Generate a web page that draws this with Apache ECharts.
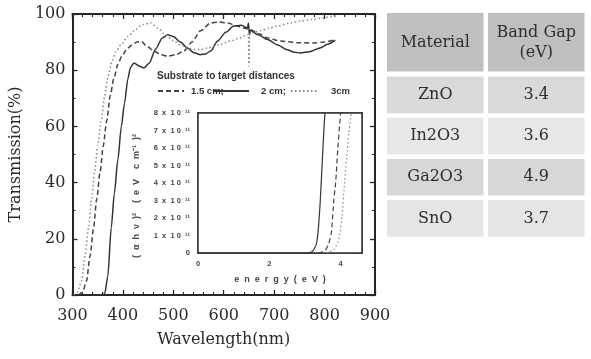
<!DOCTYPE html>
<html><head><meta charset="utf-8">
<script src="https://cdn.jsdelivr.net/npm/echarts@6/dist/echarts.min.js"></script>
<style>html,body{margin:0;padding:0;background:#fff}#c{width:591px;height:359px}</style>
</head><body><div id="c"></div><script>
// ---- data ----
const seriesNames = ['1.5 cm;', '2 cm;', '3cm'];
const wavelengthTicks = [300, 400, 500, 600, 700, 800, 900];
// transmission (%) vs wavelength (nm)
const trans15 = [[312,0],[320,1],[328,5],[335,14],[342,24],[348,34],[355,44],[361,53],[368,62],[375,71],[382,77],[390,82],[398,85],[408,87.5],[418,89],[428,90],[436,90.3],[448,88.5],[462,86.8],[475,85.5],[489,85],[505,85.5],[521,86.8],[537,90],[554,94],[574,96.8],[590,97.2],[608,96.8],[625,95.8],[639,95],[653,94.4],[670,93],[687,91.5],[712,90.4],[745,89.8],[777,89.7],[800,90],[821,90.9]];
const trans2 = [[340,0],[360,0],[364,0.5],[370,6.5],[377,24],[383,36],[390,48],[397,60],[403,68],[410,77],[415,81],[422,82.6],[432,81.5],[442,80.8],[452,82.5],[465,87.5],[478,91.5],[489,92.6],[500,92],[514,90],[528,87.9],[541,86.2],[554,85.5],[564,85.8],[574,86.8],[588,90.4],[604,93.5],[620,95.7],[635,96],[647,95],[649,96.8],[651,92.5],[653,94.2],[668,92.6],[687,90.9],[707,89],[726,87.3],[740,86.4],[752,86.1],[770,86.6],[791,87.9],[806,89.2],[821,90.7]];
const trans3 = [[303,0],[310,1],[318,5],[325,14],[332,24],[338,34],[344,44],[350,53],[357,62],[364,71],[371,78],[378,83],[386,86.5],[396,89],[410,92],[425,94.5],[438,96.2],[456,96.8],[469,95],[485,92.5],[500,90.5],[515,89],[528,87.9],[541,87.4],[554,87.3],[568,87.9],[590,89],[614,90.4],[632,91.5],[647,92.6],[649,92.8],[650,81.5],[651,92.9],[660,93.5],[673,94],[690,95],[706,95.7],[732,96.8],[752,97.5],[775,98],[797,98.6],[811,99.1],[825,99.3]];
// inset: (alpha h nu)^2 in units of 1e11 vs energy (eV)
const inset15 = [[0,0],[3.4,0],[3.58,0.19],[3.66,0.5],[3.74,1.14],[3.81,3.05],[3.86,4.0],[3.92,5.9],[3.98,7.52],[4.0,8]];
const inset2 = [[0,0],[3.0,0],[3.15,0.02],[3.25,0.2],[3.33,0.6],[3.38,1.5],[3.43,3],[3.48,5],[3.53,7],[3.56,8]];
const inset3 = [[3.6,0],[3.81,0.19],[3.95,0.76],[4.04,2.1],[4.11,4.0],[4.19,5.9],[4.23,6.86],[4.28,7.7],[4.3,8]];
// table
const tableHeader = ['Material', 'Band Gap\n(eV)'];
const materials = ['ZnO', 'In2O3', 'Ga2O3', 'SnO'];
const bandGaps = ['3.4', '3.6', '4.9', '3.7'];
const rowColors = ['#dadada', '#e7e7e7', '#d7d7d7', '#e5e5e5'];

// ---- chart ----
const serif = 'DejaVu Serif';
const sans = 'Liberation Sans';
const ink = '#262626';
const lineCols = ['#444', '#333', '#888'];
const lineTypes = [[5, 3], 'solid', [1.5, 2.5]];

function frameAxis(extra) {
  return Object.assign({
    type: 'value',
    axisLine: { show: true, onZero: false, lineStyle: { color: ink, width: 2 } },
    axisTick: { show: true, inside: true, length: 5, lineStyle: { color: ink, width: 1.3 } },
    minorTick: { show: true, length: 3, lineStyle: { color: ink, width: 1.1 } },
    splitLine: { show: false },
    minorSplitLine: { show: false }
  }, extra);
}
const mainLabel = { fontFamily: serif, fontSize: 16, color: '#2a2a2a' };
const insetLabel = { fontFamily: sans, fontWeight: 'bold', fontSize: 7.5, color: '#444' };

const xAxes = [
  frameAxis({ gridIndex: 0, position: 'bottom', min: wavelengthTicks[0], max: wavelengthTicks[wavelengthTicks.length - 1], interval: 100,
    minorTick: { show: true, splitNumber: 5, length: 3, lineStyle: { color: ink, width: 1.1 } },
    axisLabel: Object.assign({ margin: 13 }, mainLabel),
    name: 'Wavelength(nm)', nameLocation: 'middle', nameGap: 37,
    nameTextStyle: { fontFamily: serif, fontSize: 16, color: '#2a2a2a' } }),
  frameAxis({ gridIndex: 0, position: 'top', min: 300, max: 900, interval: 100,
    minorTick: { show: true, splitNumber: 5, length: 3, lineStyle: { color: ink, width: 1.1 } },
    axisLabel: { show: false } }),
  frameAxis({ gridIndex: 1, position: 'bottom', min: 0, max: 4.6, interval: 2,
    axisLine: { show: true, onZero: false, lineStyle: { color: '#333', width: 1.5 } },
    axisTick: { show: true, inside: true, length: 4, lineStyle: { color: '#333', width: 1 } },
    minorTick: { show: true, splitNumber: 6, length: 2.5, lineStyle: { color: '#333', width: 1 } },
    axisLabel: Object.assign({ margin: 7, showMaxLabel: false }, insetLabel),
    name: 'e  n  e  r  g  y  (  e  V  )', nameLocation: 'middle', nameGap: 22,
    nameTextStyle: { fontFamily: sans, fontWeight: 'bold', fontSize: 9, color: '#444' } }),
  frameAxis({ gridIndex: 1, position: 'top', min: 0, max: 4.6, interval: 2,
    axisLine: { show: true, onZero: false, lineStyle: { color: '#333', width: 1.5 } },
    axisTick: { show: true, inside: true, length: 4, lineStyle: { color: '#333', width: 1 } },
    minorTick: { show: true, splitNumber: 6, length: 2.5, lineStyle: { color: '#333', width: 1 } },
    axisLabel: { show: false } })
];
const yAxes = [
  frameAxis({ gridIndex: 0, position: 'left', min: 0, max: 100, interval: 20,
    minorTick: { show: true, splitNumber: 2, length: 3, lineStyle: { color: ink, width: 1.1 } },
    axisLabel: Object.assign({ margin: 7 }, mainLabel),
    name: 'Transmission(%)', nameLocation: 'middle', nameGap: 46,
    nameTextStyle: { fontFamily: serif, fontSize: 16, color: '#2a2a2a' } }),
  frameAxis({ gridIndex: 0, position: 'right', min: 0, max: 100, interval: 20,
    minorTick: { show: true, splitNumber: 2, length: 3, lineStyle: { color: ink, width: 1.1 } },
    axisLabel: { show: false } }),
  frameAxis({ gridIndex: 1, position: 'left', min: 0, max: 8, interval: 1,
    axisLine: { show: true, onZero: false, lineStyle: { color: '#333', width: 1.5 } },
    axisTick: { show: true, inside: true, length: 4, lineStyle: { color: '#333', width: 1 } },
    minorTick: { show: true, splitNumber: 4, length: 2.5, lineStyle: { color: '#333', width: 1 } },
    axisLabel: Object.assign({ margin: 8, formatter: v => v === 0 ? '0' : v + '  x  1 0  \u00b9\u00b9' }, insetLabel),
    name: '(  \u03b1  h  \u03bd  )\u00b2    (  e  V    c  m\u207b\u00b9  )\u00b2', nameLocation: 'middle', nameGap: 57,
    nameTextStyle: { fontFamily: sans, fontWeight: 'bold', fontSize: 9, color: '#444', padding: [0, 26, 0, 0] } }),
  frameAxis({ gridIndex: 1, position: 'right', min: 0, max: 8, interval: 1,
    axisLine: { show: true, onZero: false, lineStyle: { color: '#333', width: 1.5 } },
    axisTick: { show: true, inside: true, length: 4, lineStyle: { color: '#333', width: 1 } },
    minorTick: { show: true, splitNumber: 4, length: 2.5, lineStyle: { color: '#333', width: 1 } },
    axisLabel: { show: false } })
];

const mainData = [trans15, trans2, trans3];
const insetData = [inset15, inset2, inset3];
const series = [];
mainData.forEach((d, i) => series.push({
  name: seriesNames[i], type: 'line', xAxisIndex: 0, yAxisIndex: 0, data: d,
  symbol: 'none', smooth: 0.25, smoothMonotone: 'x', clip: true, z: 3,
  lineStyle: { color: lineCols[i], width: 1.5, type: lineTypes[i] }, itemStyle: { color: lineCols[i] }
}));
insetData.forEach((d, i) => series.push({
  name: 'inset ' + seriesNames[i], type: 'line', xAxisIndex: 2, yAxisIndex: 2, data: d,
  symbol: 'none', smooth: 0.2, clip: true, z: 6,
  lineStyle: { color: lineCols[i], width: 1.2, type: lineTypes[i] }
}));

// table graphics
const tX = [387, 488], tW = 96.5, hdrTop = 13, hdrH = 58.5, rowTop = 76.5, rowH = 36.7, rowStep = 41.2;
const graphic = [];
tableHeader.forEach((t, c) => {
  graphic.push({ type: 'rect', left: tX[c], top: hdrTop, shape: { width: tW, height: hdrH }, style: { fill: '#bfbfbf' } });
  graphic.push({ type: 'text', x: tX[c] + tW / 2, y: hdrTop + hdrH / 2 + 1,
    style: { text: t, fontFamily: serif, fontSize: 16, fill: '#2e2e2e', align: 'center', verticalAlign: 'middle', lineHeight: 20 } });
});
materials.forEach((m, r) => {
  [m, bandGaps[r]].forEach((t, c) => {
    const y0 = rowTop + r * rowStep;
    graphic.push({ type: 'rect', left: tX[c], top: y0, shape: { width: tW, height: rowH }, style: { fill: rowColors[r] } });
    graphic.push({ type: 'text', x: tX[c] + tW / 2, y: y0 + rowH / 2,
      style: { text: t, fontFamily: serif, fontSize: 16, fill: '#2e2e2e', align: 'center', verticalAlign: 'middle' } });
  });
});

// legend: one component per entry so each sits where the reference has it
const legendLeft = [157, 213, 290];
const legendIconW = [26, 35, 27];
const legendTextPad = [7, 12, 13];
const legends = seriesNames.map((n, i) => ({
  data: [n], left: legendLeft[i], top: 86, padding: 0, itemWidth: legendIconW[i], itemHeight: 10,
  itemStyle: { color: 'transparent', borderWidth: 0, opacity: 0 },
  textStyle: { fontFamily: sans, fontWeight: 'bold', fontSize: 9.5, color: '#333', padding: [0, 0, 0, legendTextPad[i] - 5] }
}));

const chart = echarts.init(document.getElementById('c'), null, { renderer: 'canvas' });
chart.setOption({
  animation: false,
  backgroundColor: '#fff',
  title: { text: 'Substrate to target distances', left: 157, top: 71, padding: 0,
    textStyle: { fontFamily: sans, fontWeight: 'bold', fontSize: 10, color: '#333' } },
  legend: legends,
  grid: [
    { left: 71, top: 14, width: 304, height: 281, show: false },
    { left: 198, top: 113, width: 164, height: 140, show: true, backgroundColor: '#fff', borderColor: '#333', borderWidth: 1.5, z: 4 }
  ],
  xAxis: xAxes,
  yAxis: yAxes,
  series: series,
  graphic: graphic
});
</script></body></html>
